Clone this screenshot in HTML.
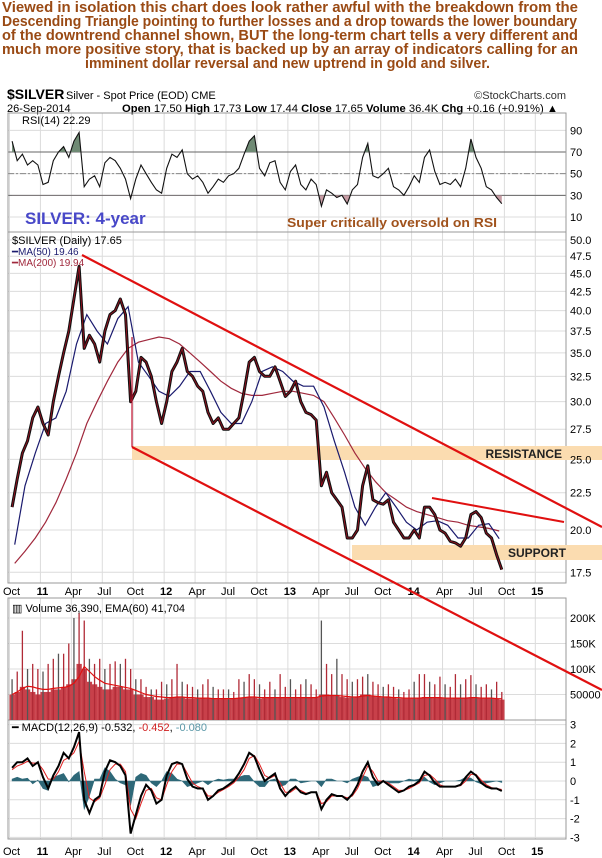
<!DOCTYPE html>
<html><head><meta charset="utf-8"><style>
html,body{margin:0;padding:0;background:#fff;}
svg{display:block;font-family:"Liberation Sans",Arial,sans-serif;}
</style></head><body>
<svg id="c" width="602" height="858" viewBox="0 0 602 858">
<g fill="#9a4a14" font-weight="bold" font-size="15">
<text x="2" y="12" textLength="576" lengthAdjust="spacingAndGlyphs">Viewed in isolation this chart does look rather awful with the breakdown from the</text>
<text x="2" y="26" textLength="575" lengthAdjust="spacingAndGlyphs">Descending Triangle pointing to further losses and a drop towards the lower boundary</text>
<text x="2" y="40" textLength="576" lengthAdjust="spacingAndGlyphs">of the downtrend channel shown, BUT the long-term chart tells a very different and</text>
<text x="2" y="54" textLength="576" lengthAdjust="spacingAndGlyphs">much more positive story, that is backed up by an array of indicators calling for an</text>
<text x="85" y="68" textLength="405" lengthAdjust="spacingAndGlyphs">imminent dollar reversal and new uptrend in gold and silver.</text>
</g>
<g font-size="11" fill="#000">
<text x="7" y="99" font-size="14" font-weight="bold">$SILVER</text>
<text x="66" y="99">Silver - Spot Price (EOD) CME</text>
<text x="566" y="99" text-anchor="end" fill="#333">©StockCharts.com</text>
<text x="7" y="112">26-Sep-2014</text>
<text x="122" y="112" textLength="436" lengthAdjust="spacingAndGlyphs"><tspan font-weight="bold">Open</tspan> 17.50 <tspan font-weight="bold">High</tspan> 17.73 <tspan font-weight="bold">Low</tspan> 17.44 <tspan font-weight="bold">Close</tspan> 17.65 <tspan font-weight="bold">Volume</tspan> 36.4K <tspan font-weight="bold">Chg</tspan> +0.16 (+0.91%) ▲</text>
</g>
<g id="grid"></g>
<g id="marks"></g>
<g id="labels" font-size="11" fill="#000"></g>
</svg>
<script>
// ---------- data (semi-monthly, Oct 2010 .. Sep 2014) ----------
const priceClose = [21.5,23.5,25.5,26.5,28.5,29.5,28,27,30,32.5,35,37.5,41.5,46,35.5,37,36,34,37.5,39.5,40,41.5,39.5,30,31,34.5,34,32.5,30,28,
30,33,34,35.5,33,32.5,31.5,31,29,28,28.5,27.5,27.5,28,28.5,31,34,34.5,33,32.5,32.5,33.5,32,30.5,
31,32,30,29,28.8,28.3,23,24,22.5,22,21.5,19.5,19.5,20,23,24.5,22,21.8,21.7,22,20.5,20,19.5,19.5,
20,19.5,21.5,21.5,21,20,19.8,19.3,19.2,19,19.5,21,21.2,20.8,19.8,19.5,18.5,17.65];
const ma50 = [19.1,23,25.5,28,28.5,31,36,39.5,37.5,36,39,40.5,34,32.5,31,30.5,31.5,33,33,31,29,28,28,30,33,33.5,33,32,31.5,31.5,29.5,26.5,24,21.5,20.3,21.5,22.5,21.5,20.5,20,20.5,20.6,20.3,19.5,19.5,20.3,20.4,19.46];
const ma200 = [18,18.7,19.5,20.5,21.8,23.5,25.5,28,30,32,34,35.5,36.2,36.5,36.8,36.6,36,35,34,33,32,31.3,30.8,30.6,30.6,30.8,31,31,30.8,30.6,30,28.5,27,25.5,24.3,23.3,22.5,22,21.5,21.2,21,20.8,20.6,20.5,20.3,20.2,20.1,19.94];
const rsi = [80,62,68,58,62,58,40,42,62,70,75,65,80,88,38,45,48,38,60,65,62,55,45,27,45,58,50,42,35,32,
55,68,65,72,50,45,48,42,32,38,45,42,48,50,55,68,80,85,55,48,60,62,42,35,
52,58,40,35,45,40,20,35,32,28,30,22,35,40,65,78,48,46,50,55,38,35,30,38,
48,42,65,72,52,40,42,40,45,38,55,82,65,55,38,35,28,22.29];
const volBase = [50,55,65,60,55,50,55,55,60,60,65,70,80,110,100,75,70,65,60,60,65,65,60,60,50,50,45,45,40,40,
42,44,45,44,42,42,42,43,42,42,41,42,41,42,43,44,45,44,42,43,44,43,44,43,
44,43,44,44,45,44,50,50,48,47,45,44,44,45,50,50,46,45,44,45,43,42,42,42,
42,43,45,44,43,44,42,42,43,44,43,44,43,42,42,42,42,40];
const volPeak = [80,95,175,100,110,100,95,110,120,130,130,150,200,210,195,120,110,120,100,110,115,110,120,100,80,80,65,60,60,75,
70,80,110,75,70,65,60,70,80,65,60,60,60,55,80,75,90,80,70,60,75,60,90,65,
80,60,70,80,70,60,195,110,90,120,90,80,75,80,85,90,75,70,65,70,65,60,55,60,
75,90,90,75,70,85,70,65,90,70,80,88,70,65,70,60,75,55];
const volEma = [50,55,62,66,65,62,60,60,62,63,64,66,72,85,105,95,85,78,72,70,68,66,64,62,58,54,50,48,46,45,
44,44,45,45,44,44,43,43,43,42,42,42,42,42,43,44,45,45,44,44,44,44,44,44,
44,44,44,44,44,44,47,48,48,48,47,46,45,45,47,48,47,46,45,45,44,44,43,43,
43,43,44,44,44,44,43,43,43,43,43,44,44,43,43,43,42,41.7];
const macd = [0.7,1.0,1.0,1.2,0.8,1.0,0.2,-0.4,0.3,0.8,1.5,1.2,1.8,2.6,-1.0,-1.7,-1.0,-0.8,0.5,1.1,1.0,0.8,0.3,-2.8,-1.8,-0.8,-0.2,-0.5,-1.2,-1.0,
0.3,0.9,1.0,0.9,0.1,-0.3,-0.4,-0.4,-1.0,-0.8,-0.5,-0.4,-0.2,0.0,0.4,0.9,1.5,1.3,0.6,0.0,0.2,0.4,-0.4,-0.8,
-0.5,-0.3,-0.6,-0.7,-0.6,-0.6,-1.5,-1.0,-0.7,-0.8,-0.8,-1.0,-0.7,-0.2,0.5,1.0,0.2,-0.2,0.0,-0.2,-0.4,-0.6,-0.5,-0.3,
-0.2,0.0,0.5,0.3,-0.1,-0.3,-0.3,-0.3,-0.3,-0.2,0.2,0.5,0.3,-0.1,-0.3,-0.4,-0.4,-0.532];
const signal = [0.6,0.8,0.9,1.05,0.95,0.95,0.6,0.1,0.1,0.5,1.1,1.25,1.5,2.1,0.5,-0.9,-1.1,-0.9,-0.2,0.6,0.9,0.9,0.5,-1.5,-2.0,-1.2,-0.5,-0.4,-0.9,-1.0,
-0.2,0.5,0.9,0.9,0.4,-0.1,-0.3,-0.4,-0.8,-0.8,-0.6,-0.45,-0.3,-0.1,0.2,0.6,1.2,1.35,0.9,0.3,0.15,0.3,-0.1,-0.6,
-0.6,-0.4,-0.5,-0.65,-0.6,-0.6,-1.2,-1.1,-0.8,-0.8,-0.8,-0.9,-0.8,-0.4,0.2,0.8,0.5,0.0,0.0,-0.1,-0.3,-0.5,-0.5,-0.4,
-0.25,-0.1,0.3,0.35,0.1,-0.2,-0.3,-0.3,-0.3,-0.25,0.0,0.35,0.35,0.05,-0.2,-0.35,-0.4,-0.452];
const monthLabels = ["Oct","11","Apr","Jul","Oct","12","Apr","Jul","Oct","13","Apr","Jul","Oct","14","Apr","Jul","Oct","15"];
const priceTicks = [50,47.5,45,42.5,40,37.5,35,32.5,30,27.5,25,22.5,20,17.5];
const rsiTicks = [90,70,50,30,10];
const volTicks = [200,150,100,50];
const volTickLabels = ["200K","150K","100K","50000"];
const macdTicks = [3,2,1,0,-1,-2,-3];

// ---------- axes ----------
const NS="http://www.w3.org/2000/svg";
const L=8, R=566;
const xHalf = i => 9.5 + 10.31*(i*0.5+0.25);   // semi-monthly index
const xMon  = m => 9.5 + 10.31*(m+0.5);
const xQ    = q => 9.5 + 10.31*3*q;
const yPrice = p => 240 + 316.5*Math.log(50/p);
const yRsi = v => 217 - (v-10)*1.083;
const yVol = k => 720 - k*0.51;
const yMacd = v => 781 - v*18.8;
const P={rsi:[113,232],price:[232,583],vol:[598,720],macd:[720,839]};

function el(tag, attrs, parent){const e=document.createElementNS(NS,tag);for(const k in attrs)e.setAttribute(k,attrs[k]);(parent||document.getElementById('marks')).appendChild(e);return e;}
const grid=document.getElementById('grid'), labels=document.getElementById('labels'), marks=document.getElementById('marks');
const pts=(arr,fx,fy)=>arr.map((v,i)=>fx(i).toFixed(1)+','+fy(v).toFixed(1)).join(' ');

// panel frames + vertical grid
for(const k in P){
  const [t,b]=P[k];
  for(let q=0;q<monthLabels.length;q++){
    const ln=el('line',{x1:xQ(q),x2:xQ(q),y1:t,y2:b,stroke:'#dcdcdc','stroke-width':1},grid);
    
    
  }
}
function hgrid(ticks,fy,[t,b],txt,extra){
  ticks.forEach((v,i)=>{
    const y=fy(v);
    const ln=el('line',{x1:L,x2:R,y1:y,y2:y,stroke:'#dcdcdc','stroke-width':1},grid);
    
    
    const t2=el('text',{x:570,y:y+4},labels);
    t2.textContent=txt?txt[i]:String(v.toFixed? (Number.isInteger(v)&&fy===yPrice?v.toFixed(1):v) : v);
    
    
  });
}
hgrid(priceTicks,yPrice,P.price,priceTicks.map(v=>v.toFixed(1)));
hgrid(rsiTicks,yRsi,P.rsi);
hgrid(volTicks,yVol,P.vol,volTickLabels);
hgrid(macdTicks,yMacd,P.macd);
// RSI reference lines
[70,30].forEach(v=>el('line',{x1:L,x2:R,y1:yRsi(v),y2:yRsi(v),stroke:'#666','stroke-width':1},grid));
el('line',{x1:L,x2:R,y1:yRsi(50),y2:yRsi(50),stroke:'#888','stroke-width':1,'stroke-dasharray':'6,2,2,2'},grid);
for(const k in P){const [t,b]=P[k];const r=el('rect',{x:L,y:t,width:R-L,height:b-t,fill:'none',stroke:'#999','stroke-width':1},grid);}
// x labels
[591,851].forEach(yy=>monthLabels.forEach((m,q)=>{
  const t=el('text',{x:xQ(q)+2,y:yy+4,'text-anchor':'middle','font-size':11,'font-weight':/^\d/.test(m)?'bold':'normal'},labels);
  t.textContent=m;
  
  
}));

// bands (annotations)
let b1=el('rect',{x:132,y:446,width:470,height:14,fill:'#fbdcb0'},grid);

let b2=el('rect',{x:352,y:545,width:250,height:15,fill:'#fbdcb0'},grid);


// ---------- RSI ----------
const rsiPts=pts(rsi,xHalf,yRsi);
const defs=el('defs',{},marks);
const c1=el('clipPath',{id:'above70'},defs);el('rect',{x:L,y:P.rsi[0],width:R-L,height:yRsi(70)-P.rsi[0]},c1);
const c2=el('clipPath',{id:'below30'},defs);el('rect',{x:L,y:yRsi(30),width:R-L,height:P.rsi[1]-yRsi(30)},c2);
const x0=xHalf(0),x1=xHalf(rsi.length-1);
el('polygon',{points:x0+','+yRsi(70)+' '+rsiPts+' '+x1+','+yRsi(70),fill:'#6f8a74','clip-path':'url(#above70)'});
el('polygon',{points:x0+','+yRsi(30)+' '+rsiPts+' '+x1+','+yRsi(30),fill:'#c79ca4','clip-path':'url(#below30)'});
let rl=el('polyline',{points:rsiPts,fill:'none',stroke:'#111','stroke-width':1.1});


// ---------- Price ----------
let m2=el('polyline',{points:pts(ma200,xMon,yPrice),fill:'none',stroke:'#a0283c','stroke-width':1.2});

let m1=el('polyline',{points:pts(ma50,xMon,yPrice),fill:'none',stroke:'#1a1a6e','stroke-width':1.2});

let pl=el('polyline',{points:pts(priceClose,xHalf,yPrice),fill:'none',stroke:'#111','stroke-width':3,'stroke-linejoin':'round'});

el('polyline',{points:pts(priceClose,xHalf,yPrice),fill:'none',stroke:'#a01020','stroke-width':0.8});

// ---------- Volume ----------
volBase.forEach((v,i)=>{
  const r=el('rect',{x:xHalf(i)-2.6,y:yVol(v),width:5.3,height:720-yVol(v),fill:'#c8404a'});
  
  
});
volPeak.forEach((v,i)=>{
  const ln=el('line',{x1:xHalf(i),x2:xHalf(i),y1:yVol(v),y2:720,stroke:i%3?'#b02a36':'#555','stroke-width':1.3});
  
  
});
let ve=el('polyline',{points:pts(volEma,xHalf,yVol),fill:'none',stroke:'#e01010','stroke-width':1.2});


// ---------- MACD ----------
const hist=macd.map((v,i)=>v-signal[i]);
let hp=el('polygon',{points:xHalf(0)+','+yMacd(0)+' '+pts(hist,xHalf,yMacd)+' '+xHalf(hist.length-1)+','+yMacd(0),fill:'#2e6878',stroke:'#2e6878','stroke-width':0.6});

let sg=el('polyline',{points:pts(signal,xHalf,yMacd),fill:'none',stroke:'#e02020','stroke-width':1});

let ml=el('polyline',{points:pts(macd,xHalf,yMacd),fill:'none',stroke:'#000','stroke-width':2});

</script>
<svg style="position:absolute;left:0;top:0" width="602" height="858" viewBox="0 0 602 858">
<g font-family="Liberation Sans, Arial, sans-serif">
<line x1="82" y1="255" x2="602" y2="527" stroke="#e01010" stroke-width="2.2"/>
<line x1="132" y1="447" x2="602" y2="690" stroke="#e01010" stroke-width="2.2"/>
<line x1="132" y1="337" x2="132" y2="447" stroke="#c01030" stroke-width="1.2"/>
<line x1="432" y1="498" x2="564" y2="522" stroke="#e01010" stroke-width="2"/>
<text x="562" y="458" text-anchor="end" font-size="12" font-weight="bold" fill="#222">RESISTANCE</text>
<text x="566" y="557" text-anchor="end" font-size="12" font-weight="bold" fill="#222">SUPPORT</text>
<text x="25" y="224" font-size="17" font-weight="bold" fill="#4848c8">SILVER: 4-year</text>
<text x="287" y="227" font-size="13" font-weight="bold" fill="#a0521c" textLength="210" lengthAdjust="spacingAndGlyphs">Super critically oversold on RSI</text>
<text x="22" y="124" font-size="11">RSI(14) 22.29</text>
<text x="12" y="244" font-size="11">$SILVER (Daily) 17.65</text>
<text x="12" y="255" font-size="10" fill="#1a1a6e">━MA(50) 19.46</text>
<text x="12" y="266" font-size="10" fill="#a0283c">━MA(200) 19.94</text>
<text x="12" y="612" font-size="11">▥ Volume 36,390, EMA(60) 41,704</text>
<text x="12" y="731" font-size="11">━ MACD(12,26,9) -0.532, <tspan fill="#d02020">-0.452</tspan>, <tspan fill="#5a98a8">-0.080</tspan></text>
</g>
</svg>
</body></html>
